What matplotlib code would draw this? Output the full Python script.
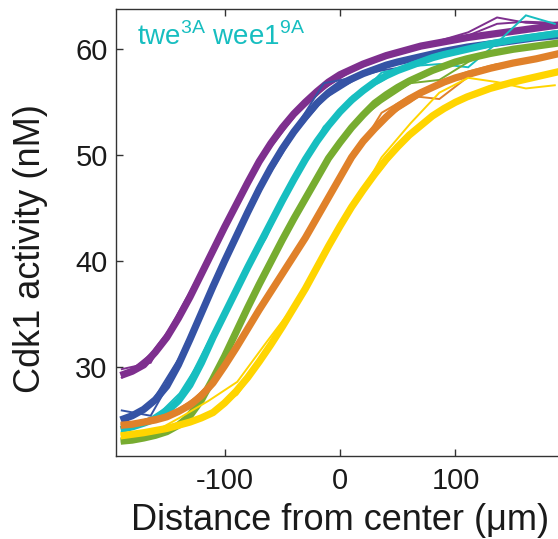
import matplotlib
matplotlib.use('Agg')
import matplotlib.pyplot as plt

plt.rcParams['font.family'] = ['Liberation Sans', 'DejaVu Sans']
plt.rcParams['mathtext.fontset'] = 'custom'
plt.rcParams['mathtext.rm'] = 'Liberation Sans'
plt.rcParams['axes.unicode_minus'] = False

# x positions (um) of the fitted curves and of the measured profiles
fit_x = [-190, -180, -170, -160, -150, -140, -130, -120, -110, -100,
         -90, -80, -70, -60, -50, -40, -30, -20, -10, 0,
         10, 20, 30, 40, 50, 60, 70, 80, 90, 100,
         110, 120, 130, 140, 150, 160, 170, 180, 190]
data_x = [-189, -164, -139, -114, -89, -64, -39, -14,
          11, 36, 61, 86, 111, 136, 161, 186]

# fitted Cdk1 activity (nM)
purple_fit = [29.2, 29.6, 30.2, 31.4, 32.8, 34.6, 36.6, 38.8, 41.0, 43.2,
              45.3, 47.4, 49.4, 51.1, 52.6, 53.9, 55.0, 56.0, 56.9, 57.6,
              58.1, 58.6, 59.0, 59.4, 59.7, 60.0, 60.3, 60.5, 60.7, 60.9,
              61.1, 61.25, 61.4, 61.55, 61.7, 61.85, 62.0, 62.15, 62.3]
blue_fit = [25.0, 25.4, 26.0, 26.9, 28.2, 30.2, 32.6, 35.1, 37.6, 40.0,
            42.3, 44.6, 46.8, 48.8, 50.6, 52.2, 53.6, 54.9, 55.9, 56.7,
            57.2, 57.7, 58.1, 58.5, 58.8, 59.05, 59.3, 59.55, 59.8, 60.0,
            60.2, 60.35, 60.5, 60.65, 60.8, 60.95, 61.1, 61.2, 61.3]
cyan_fit = [24.1, 24.35, 24.7, 25.1, 25.8, 26.8, 28.3, 30.4, 32.8, 35.0,
            37.2, 39.4, 41.5, 43.6, 45.7, 47.7, 49.6, 51.3, 52.8, 54.1,
            55.2, 56.1, 56.9, 57.5, 58.0, 58.4, 58.8, 59.2, 59.5, 59.75,
            60.0, 60.25, 60.5, 60.7, 60.9, 61.05, 61.2, 61.35, 61.5]
green_fit = [23.0, 23.1, 23.3, 23.55, 23.9, 24.5, 25.4, 26.9, 28.9, 31.0,
             33.3, 35.6, 37.8, 39.9, 42.0, 44.0, 45.9, 47.8, 49.7, 51.2,
             52.6, 53.8, 54.9, 55.7, 56.4, 57.0, 57.5, 58.0, 58.4, 58.8,
             59.1, 59.35, 59.6, 59.8, 60.0, 60.15, 60.3, 60.45, 60.6]
orange_fit = [24.5, 24.6, 24.8, 25.0, 25.3, 25.8, 26.4, 27.3, 28.5, 30.1,
              31.8, 33.6, 35.4, 37.1, 38.8, 40.5, 42.2, 44.1, 46.0, 47.9,
              49.8, 51.3, 52.5, 53.6, 54.6, 55.3, 55.9, 56.4, 56.9, 57.3,
              57.6, 57.9, 58.2, 58.45, 58.7, 58.9, 59.1, 59.35, 59.6]
yellow_fit = [23.5, 23.65, 23.8, 24.0, 24.2, 24.5, 24.8, 25.2, 25.7, 26.6,
              27.7, 29.0, 30.5, 32.1, 33.8, 35.6, 37.4, 39.4, 41.4, 43.3,
              45.1, 46.7, 48.2, 49.6, 50.8, 51.9, 52.8, 53.7, 54.4, 55.0,
              55.5, 55.9, 56.3, 56.6, 56.9, 57.15, 57.4, 57.65, 57.9]

# measured profiles, two per condition
purple_a = [29.8, 30.4, 35.3, 40.3, 45.6, 50.2, 53.7, 56.3,
            58.0, 59.3, 60.2, 60.8, 61.6, 63.0, 62.5, 62.4]
purple_b = [29.0, 31.2, 34.8, 39.9, 45.3, 50.5, 54.0, 56.7,
            58.2, 59.1, 59.9, 60.5, 61.3, 62.4, 62.6, 62.5]
blue_a = [25.9, 25.4, 30.2, 36.4, 42.6, 48.1, 52.5, 56.8,
          57.3, 58.0, 58.4, 59.4, 60.3, 60.7, 61.0, 61.3]
blue_b = [24.6, 26.5, 30.9, 36.8, 42.3, 47.7, 52.1, 55.3,
          57.0, 58.5, 59.2, 59.8, 60.1, 60.5, 61.1, 61.2]
cyan_a = [24.3, 25.2, 27.0, 32.4, 37.0, 42.8, 47.6, 52.7,
          55.0, 57.8, 58.4, 58.6, 58.3, 60.6, 63.2, 62.4]
cyan_b = [23.9, 24.8, 27.5, 31.8, 37.8, 42.2, 48.2, 52.2,
          55.6, 57.0, 58.7, 59.6, 60.2, 60.8, 61.3, 61.7]
green_a = [23.1, 23.4, 24.4, 28.0, 33.7, 39.0, 44.3, 48.7,
           52.9, 55.0, 56.8, 57.1, 58.8, 59.9, 60.1, 60.6]
green_b = [22.9, 23.5, 24.7, 28.0, 33.2, 39.2, 43.9, 49.1,
           52.5, 55.5, 57.2, 58.4, 59.2, 59.6, 60.3, 60.5]
orange_a = [24.3, 25.2, 25.7, 28.3, 31.8, 36.7, 40.5, 45.6,
            49.6, 54.0, 55.6, 55.3, 57.4, 58.3, 59.0, 59.6]
orange_b = [24.6, 24.9, 26.1, 27.9, 32.3, 36.1, 41.0, 44.9,
            50.3, 53.3, 55.0, 56.9, 57.9, 58.6, 58.8, 59.4]
yellow_a = [23.6, 23.7, 25.2, 26.8, 28.6, 32.3, 35.9, 40.4,
            45.0, 49.8, 53.0, 55.9, 57.3, 56.9, 56.3, 56.6]
yellow_b = [23.3, 24.0, 24.3, 25.6, 27.4, 31.2, 35.5, 40.9,
            45.6, 48.7, 52.2, 54.3, 55.6, 56.8, 57.0, 57.9]

curves = [
    ('#7e2f8e', purple_fit, purple_a, purple_b),
    ('#3553a5', blue_fit, blue_a, blue_b),
    ('#17bec0', cyan_fit, cyan_a, cyan_b),
    ('#77ac30', green_fit, green_a, green_b),
    ('#e0812a', orange_fit, orange_a, orange_b),
    ('#ffd500', yellow_fit, yellow_a, yellow_b),
]

fig = plt.figure(figsize=(5.58, 5.39), dpi=100)
# axes runs a little past the right edge of the picture (cropped figure)
ax = fig.add_axes([0.2079, 0.154, 0.8029, 0.8293])

for color, fit, da, db in curves:
    ax.plot(data_x, da, color=color, lw=1.4, solid_joinstyle='miter')
    ax.plot(data_x, db, color=color, lw=1.4, solid_joinstyle='miter')
    ax.plot(fit_x, fit, color=color, lw=5.2, solid_capstyle='butt',
            solid_joinstyle='round')

ax.set_xlim(-194, 194)
ax.set_ylim(21.6, 63.8)
ax.set_xticks([-100, 0, 100])
ax.set_yticks([30, 40, 50, 60])
ax.tick_params(direction='in', top=True, right=False, length=5, width=1,
               labelsize=21, color='#333333', labelcolor='#1a1a1a')
ax.tick_params(axis='x', pad=8)
ax.tick_params(axis='y', pad=6)
for s in ax.spines.values():
    s.set_color('#333333')
    s.set_linewidth(1)

ax.set_xlabel('Distance from center (\u03bcm)', fontsize=26, color='#1a1a1a')
ax.xaxis.set_label_coords(0.5, -0.105)
ax.set_ylabel('Cdk1 activity (nM)', fontsize=26, color='#1a1a1a')
ax.yaxis.set_label_coords(-0.152, 0.465)

ax.text(0.047, 0.919, r'twe$^{\mathregular{3A}}$ wee1$^{\mathregular{9A}}$',
        transform=ax.transAxes, color='#17bec0', fontsize=20, va='baseline')

fig.savefig('out.png', dpi=100)
